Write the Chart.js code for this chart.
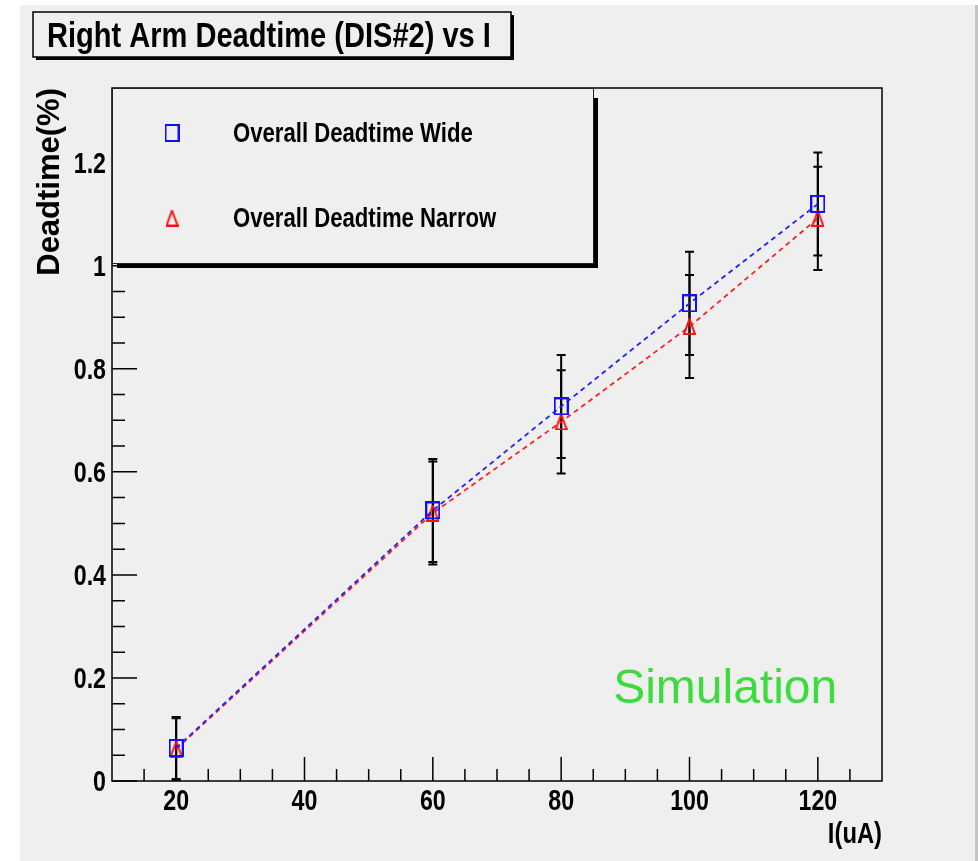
<!DOCTYPE html>
<html>
<head>
<meta charset="utf-8">
<title>Right Arm Deadtime (DIS#2) vs I</title>
<script src="https://cdn.jsdelivr.net/npm/chart.js@4.4.1/dist/chart.umd.min.js"></script>
<style>
  html, body { margin: 0; padding: 0; background: #fff; }
  #wrap { width: 978px; height: 861px; }
</style>
</head>
<body>
<div id="wrap"><canvas id="deadtime" width="978" height="861"></canvas></div>
<script>
// beam current in uA
var currents = [20, 60, 80, 100, 120];

// overall deadtime in %, with errors
var wideDeadtime = [0.064, 0.525, 0.727, 0.927, 1.12];
var wideErr = [0.06, 0.1, 0.1, 0.1, 0.1];
var narrowDeadtime = [0.062, 0.52, 0.697, 0.882, 1.092];
var narrowErr = [0.06, 0.1, 0.1, 0.1, 0.1];

var seriesNames = ['Overall Deadtime Wide', 'Overall Deadtime Narrow'];

var xTicks = [20, 40, 60, 80, 100, 120];
var xTickLabels = ['20', '40', '60', '80', '100', '120'];
var yTicks = [0, 0.2, 0.4, 0.6, 0.8, 1, 1.2];
var yTickLabels = ['0', '0.2', '0.4', '0.6', '0.8', '1', '1.2'];

var plainFont = "'Liberation Sans', Arial, sans-serif";
var padGrey = '#efefef';

// bold helvetica, squeezed sideways like the ROOT narrow labels
function squeezedText(ctx, text, x, y, size, align, baseline, sx) {
  ctx.save();
  ctx.font = 'bold ' + size + 'px ' + plainFont;
  ctx.fillStyle = '#000';
  ctx.textAlign = align;
  ctx.textBaseline = baseline;
  ctx.translate(x, y);
  ctx.scale(sx || 0.82, 1);
  ctx.fillText(text, 0, 0);
  ctx.restore();
}

function squareMarker(color) {
  var c = document.createElement('canvas');
  c.width = 15; c.height = 18;
  var g = c.getContext('2d');
  g.strokeStyle = color;
  g.lineWidth = 2;
  g.strokeRect(1, 1, 13, 16);
  return c;
}

function triangleMarker(color) {
  var c = document.createElement('canvas');
  c.width = 13; c.height = 17;
  var g = c.getContext('2d');
  g.strokeStyle = color;
  g.lineWidth = 2;
  g.beginPath();
  g.moveTo(6.5, 1);
  g.lineTo(12, 16);
  g.lineTo(1, 16);
  g.closePath();
  g.stroke();
  return c;
}

var blueBox = squareMarker('#1010ff');
var redTri = triangleMarker('#ff1010');

function points(ys) {
  return currents.map(function (x, i) { return { x: x, y: ys[i] }; });
}

// ROOT style pad: grey canvas, title box, frame with inward ticks, legend, error bars
var rootPad = {
  id: 'rootPad',
  beforeDraw: function (chart) {
    var ctx = chart.ctx;
    ctx.save();
    ctx.fillStyle = '#fff';
    ctx.fillRect(0, 0, chart.width, chart.height);
    ctx.fillStyle = padGrey;
    ctx.fillRect(20, 5, 955, chart.height - 5);
    ctx.fillStyle = '#c4c4c4';
    ctx.fillRect(975, 5, 3, chart.height - 5);

    // title box with shadow
    ctx.fillStyle = '#000';
    ctx.fillRect(36, 15, 478, 45);
    ctx.fillStyle = padGrey;
    ctx.fillRect(33, 12, 478, 45);
    ctx.strokeStyle = '#000';
    ctx.lineWidth = 1.5;
    ctx.strokeRect(33, 12, 478, 45);
    ctx.restore();
    squeezedText(ctx, 'Right Arm Deadtime (DIS#2) vs I', 47, 47, 35, 'left', 'alphabetic', 0.83);
  },
  beforeDatasetsDraw: function (chart) {
    var ctx = chart.ctx;
    var a = chart.chartArea;
    var xs = chart.scales.x, ys = chart.scales.y;

    // tick labels and x title
    xs.ticks.forEach(function (t, i) {
      squeezedText(ctx, xTickLabels[i], xs.getPixelForValue(t.value), a.bottom + 21, 29, 'center', 'middle', 0.8);
    });
    ys.ticks.forEach(function (t, i) {
      squeezedText(ctx, yTickLabels[i], a.left - 6, ys.getPixelForValue(t.value) + 2, 29, 'right', 'middle', 0.8);
    });
    squeezedText(ctx, 'I(uA)', a.right, a.bottom + 54, 29, 'right', 'middle', 0.82);

    // error bars
    var sets = [[wideDeadtime, wideErr], [narrowDeadtime, narrowErr]];
    ctx.save();
    ctx.strokeStyle = '#000';
    ctx.lineWidth = 2;
    sets.forEach(function (s) {
      currents.forEach(function (c, i) {
        var px = xs.getPixelForValue(c);
        var top = ys.getPixelForValue(s[0][i] + s[1][i]);
        var bot = ys.getPixelForValue(s[0][i] - s[1][i]);
        ctx.beginPath();
        ctx.moveTo(px, top); ctx.lineTo(px, bot);
        ctx.moveTo(px - 4.5, top); ctx.lineTo(px + 4.5, top);
        ctx.moveTo(px - 4.5, bot); ctx.lineTo(px + 4.5, bot);
        ctx.stroke();
      });
    });
    ctx.restore();
  },
  afterDatasetsDraw: function (chart) {
    var ctx = chart.ctx;
    var a = chart.chartArea;
    var xs = chart.scales.x, ys = chart.scales.y;
    ctx.save();

    // frame
    ctx.strokeStyle = '#000';
    ctx.lineWidth = 1.5;
    ctx.strokeRect(a.left, a.top, a.right - a.left, a.bottom - a.top);

    // inward ticks
    ctx.beginPath();
    var v, p, len;
    for (v = 15; v <= 125; v += 5) {
      p = xs.getPixelForValue(v);
      len = xTicks.indexOf(v) >= 0 ? 24 : 12;
      ctx.moveTo(p, a.bottom);
      ctx.lineTo(p, a.bottom - len);
    }
    for (var k = 0; k <= 26; k++) {
      v = k * 0.05;
      p = ys.getPixelForValue(v);
      len = k % 4 === 0 ? 25 : 13;
      ctx.moveTo(a.left, p);
      ctx.lineTo(a.left + len, p);
    }
    ctx.stroke();

    // legend box with shadow
    var lx = a.left, ly = a.top, lw = 481, lh = 175;
    ctx.fillStyle = '#000';
    ctx.fillRect(lx + lw, ly + 10, 5, lh - 5);
    ctx.fillRect(lx + 5, ly + lh, lw, 5);
    ctx.fillStyle = padGrey;
    ctx.fillRect(lx, ly, lw, lh);
    ctx.strokeStyle = '#222';
    ctx.lineWidth = 1;
    ctx.strokeRect(lx + 0.5, ly + 0.5, lw, lh);
    ctx.restore();

    var marks = [blueBox, redTri];
    var rows = [ly + 45, ly + 130];
    chart.data.datasets.forEach(function (ds, i) {
      var m = marks[i];
      ctx.drawImage(m, lx + 60 - m.width / 2, rows[i] - m.height / 2);
      squeezedText(ctx, ds.label, lx + 121, rows[i] + 2, 27, 'left', 'middle', 0.82);
    });

    // annotation
    ctx.save();
    ctx.fillStyle = '#3ddc3d';
    ctx.font = '48px ' + plainFont;
    ctx.textAlign = 'left';
    ctx.textBaseline = 'alphabetic';
    ctx.fillText('Simulation', xs.getPixelForValue(88.1), ys.getPixelForValue(0.151));
    ctx.restore();
  }
};

Chart.defaults.color = '#000';

var ctx = document.getElementById('deadtime').getContext('2d');

new Chart(ctx, {
  type: 'line',
  data: {
    datasets: [{
        label: seriesNames[0],
        data: points(wideDeadtime),
        borderColor: '#2020ff',
        borderWidth: 1.8,
        borderDash: [5, 4],
        tension: 0,
        fill: false,
        pointStyle: blueBox,
        pointRadius: 8
      },
      {
        label: seriesNames[1],
        data: points(narrowDeadtime),
        borderColor: '#ff2020',
        borderWidth: 1.8,
        borderDash: [5, 4],
        tension: 0,
        fill: false,
        pointStyle: redTri,
        pointRadius: 8
      }
    ]
  },
  options: {
    responsive: false,
    animation: false,
    devicePixelRatio: 1,
    layout: {
      padding: { top: 88, right: 96, left: 0, bottom: 0 }
    },
    plugins: {
      legend: { display: false },
      title: { display: false },
      tooltip: { enabled: false }
    },
    scales: {
      x: {
        type: 'linear',
        position: 'bottom',
        min: 10,
        max: 130,
        afterBuildTicks: function (s) {
          s.ticks = xTicks.map(function (v) { return { value: v }; });
        },
        afterFit: function (s) { s.height = 80; },
        grid: { display: false, drawTicks: false },
        border: { display: false },
        ticks: { display: false }
      },
      y: {
        position: 'left',
        min: 0,
        max: 1.345,
        afterBuildTicks: function (s) {
          s.ticks = yTicks.map(function (v) { return { value: v }; });
        },
        afterFit: function (s) { s.width = 112; },
        grid: { display: false, drawTicks: false },
        border: { display: false },
        ticks: { display: false },
        title: {
          display: true,
          text: 'Deadtime(%)',
          align: 'end',
          color: '#000',
          padding: { top: 32, bottom: 0 },
          font: { family: plainFont, weight: 'bold', size: 31 }
        }
      }
    }
  },
  plugins: [rootPad]
});
</script>
</body>
</html>
